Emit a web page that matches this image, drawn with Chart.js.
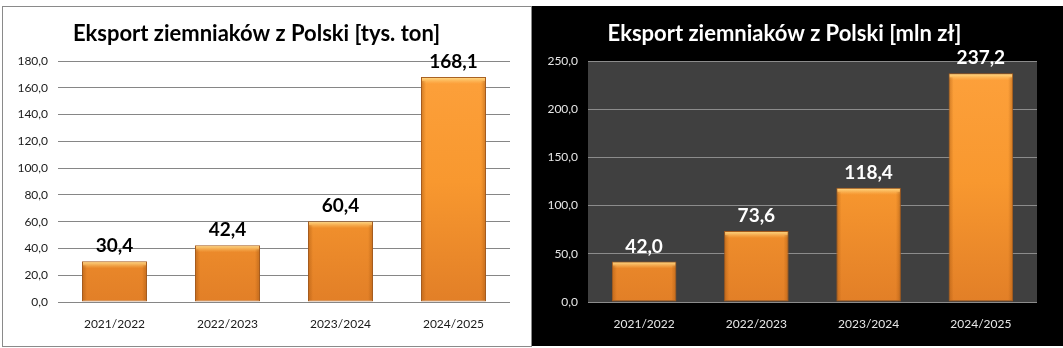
<!DOCTYPE html>
<html lang="pl">
<head>
<meta charset="utf-8">
<title>Eksport ziemniaków z Polski</title>
<script src="https://cdn.jsdelivr.net/npm/chart.js@4/dist/chart.umd.min.js"></script>
<style>
    html, body { margin: 0; padding: 0; background: #ffffff; }
    body { width: 1063px; height: 348px; position: relative; overflow: hidden; }
    #boxTonnes {
        position: absolute; left: 2px; top: 6px;
        width: 528px; height: 339px;
        border: 1px solid #8a8a8a;
        background: #ffffff;
    }
    #boxValue {
        position: absolute; left: 532px; top: 6px;
        width: 531px; height: 340px;
        background: #000000;
    }
    canvas { display: block; }
</style>
</head>
<body>
<div id="boxTonnes"><canvas id="tonnesChart" width="528" height="339"></canvas></div>
<div id="boxValue"><canvas id="valueChart" width="531" height="340"></canvas></div>
<script>
const seasons = ['2021/2022', '2022/2023', '2023/2024', '2024/2025'];
const exportTonnes = [30.4, 42.4, 60.4, 168.1];   // tys. ton
const exportValue = [42.0, 73.6, 118.4, 237.2];   // mln zł
const tonnesTicks = { min: 0, max: 180, step: 20 };
const valueTicks = { min: 0, max: 250, step: 50 };

const FONT = 'Lato, "Noto Sans", sans-serif';

function plFormat(v) {
    return Number(v).toFixed(1).replace('.', ',');
}

// pomarańczowy gradient słupka
function barFill(context) {
    const chart = context.chart;
    const area = chart.chartArea;
    if (!area) return '#f39533';
    const g = chart.ctx.createLinearGradient(0, area.top, 0, area.bottom);
    g.addColorStop(0, '#fda13c');
    g.addColorStop(0.5, '#f8982f');
    g.addColorStop(1, '#e27f27');
    return g;
}

// tło obszaru wykresu
const plotBackground = {
    id: 'plotBackground',
    beforeDraw(chart, args, opts) {
        const ctx = chart.ctx;
        ctx.save();
        if (opts.canvasColor) {
            ctx.fillStyle = opts.canvasColor;
            ctx.fillRect(0, 0, chart.width, chart.height);
        }
        if (opts.areaColor) {
            const a = chart.chartArea;
            ctx.fillStyle = opts.areaColor;
            ctx.fillRect(a.left, a.top, a.right - a.left, a.bottom - a.top);
        }
        ctx.restore();
    }
};

// efekt wypukłości + etykiety wartości nad słupkami
const barDecor = {
    id: 'barDecor',
    afterDatasetsDraw(chart, args, opts) {
        const ctx = chart.ctx;
        const meta = chart.getDatasetMeta(0);
        const values = chart.data.datasets[0].data;
        ctx.save();
        meta.data.forEach((bar, i) => {
            const left = bar.x - bar.width / 2;
            const top = bar.y;
            const h = bar.base - bar.y;
            // górna jasna krawędź
            let g = ctx.createLinearGradient(0, top, 0, top + 7);
            g.addColorStop(0, 'rgba(255,230,150,0.95)');
            g.addColorStop(1, 'rgba(255,200,110,0)');
            ctx.fillStyle = g;
            ctx.fillRect(left + 1, top + 1, bar.width - 2, 7);
            // boczne cienie
            g = ctx.createLinearGradient(left, 0, left + 5, 0);
            g.addColorStop(0, 'rgba(150,75,10,0.45)');
            g.addColorStop(1, 'rgba(150,75,10,0)');
            ctx.fillStyle = g;
            ctx.fillRect(left + 1, top + 4, 5, h - 5);
            g = ctx.createLinearGradient(left + bar.width, 0, left + bar.width - 5, 0);
            g.addColorStop(0, 'rgba(150,75,10,0.45)');
            g.addColorStop(1, 'rgba(150,75,10,0)');
            ctx.fillStyle = g;
            ctx.fillRect(left + bar.width - 6, top + 4, 5, h - 5);
            // etykieta
            ctx.fillStyle = opts.color;
            ctx.font = 'bold 19px ' + FONT;
            ctx.textAlign = 'center';
            ctx.textBaseline = 'middle';
            ctx.fillText(plFormat(values[i]), bar.x, bar.y - 15);
        });
        ctx.restore();
    }
};

function makeChart(canvasId, title, values, range, theme) {
    const el = document.getElementById(canvasId);
    if (!el) return;
    return new Chart(el, {
        type: 'bar',
        data: {
            labels: seasons,
            datasets: [{
                data: values,
                backgroundColor: barFill,
                borderColor: '#a45a1c',
                borderWidth: 1,
                borderSkipped: false,
                categoryPercentage: 1,
                barPercentage: 0.575
            }]
        },
        options: {
            responsive: false,
            animation: false,
            layout: { padding: { left: 0, right: theme.padRight, top: 0, bottom: 0 } },
            plugins: {
                legend: { display: false },
                tooltip: { enabled: false },
                title: {
                    display: true,
                    text: title,
                    color: theme.titleColor,
                    font: { family: FONT, size: 22, weight: 'bold', lineHeight: 1.2 },
                    padding: { top: theme.titleTop, bottom: 14 }
                },
                plotBackground: { canvasColor: theme.canvas, areaColor: theme.area },
                barDecor: { color: theme.valueColor }
            },
            scales: {
                x: {
                    grid: { display: false, drawTicks: false },
                    border: { display: false },
                    ticks: {
                        color: theme.tickColor,
                        font: { family: FONT, size: 12 },
                        padding: 15
                    },
                    afterFit(scale) { scale.height = theme.xHeight; }
                },
                y: {
                    min: range.min,
                    max: range.max,
                    grid: { color: theme.gridColor, lineWidth: 1, drawTicks: false },
                    border: { display: false },
                    ticks: {
                        stepSize: range.step,
                        color: theme.tickColor,
                        font: { family: FONT, size: 12 },
                        padding: 10,
                        callback: v => plFormat(v)
                    },
                    afterFit(scale) { scale.width = theme.yWidth; }
                }
            }
        },
        plugins: [plotBackground, barDecor]
    });
}

document.addEventListener('DOMContentLoaded', function() {
    // 1. Eksport w tys. ton
    makeChart('tonnesChart', 'Eksport ziemniaków z Polski [tys. ton]', exportTonnes, tonnesTicks, {
        canvas: null, area: null,
        titleColor: '#000000', valueColor: '#000000', tickColor: '#1a1a1a',
        gridColor: '#868686', titleTop: 13.6, padRight: 21, xHeight: 44, yWidth: 55
    });

    // 2. Eksport w mln zł
    makeChart('valueChart', 'Eksport ziemniaków z Polski [mln zł]', exportValue, valueTicks, {
        canvas: '#000000', area: '#404040',
        titleColor: '#ffffff', valueColor: '#ffffff', tickColor: '#e6e6e6',
        gridColor: '#8c8c8c', titleTop: 14.6, padRight: 26, xHeight: 44, yWidth: 56
    });
});
</script>
</body>
</html>
